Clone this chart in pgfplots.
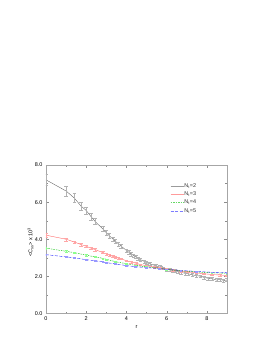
\documentclass[border=0pt]{standalone}
\usepackage{fontspec}
\setmainfont{Liberation Sans}
\usepackage{pgfplots}
\pgfplotsset{compat=1.18}
\begin{document}
\begin{tikzpicture}
\useasboundingbox (0,0) rectangle (274bp,354bp);
\begin{axis}[
  at={(46bp,40.5bp)}, anchor=south west,
  scale only axis, width=181bp, height=148.5bp,
  xmin=0, xmax=9, ymin=0, ymax=8,
  xtick={0,2,4,6,8}, ytick={0,2,4,6,8},
  minor x tick num=1, minor y tick num=1,
  font=\fontsize{5.5}{6}\selectfont,
  /pgf/number format/assume math mode=true,
  yticklabel style={/pgf/number format/fixed, /pgf/number format/precision=1, /pgf/number format/fixed zerofill},
  axis line style={black!35, line width=0.4pt},
  every tick/.style={black!45, line width=0.3pt},
  major tick length=2.5bp, minor tick length=1.5bp,
  xlabel={r}, ylabel={<C\textsubscript{ss}> x 10\textsuperscript{3}},
  xlabel style={at={(axis description cs:0.5,-0.094)}, anchor=center},
  ylabel style={at={(axis description cs:-0.085,0.48)}, anchor=center},
  legend cell align=left,
  legend style={draw=none, fill=none, at={(axis description cs:0.67,0.895)}, anchor=north west,
    nodes={inner sep=0.6pt, text height=4bp, text depth=1bp, text=black!80}, row sep=2.1bp,
    font=\fontsize{5.5}{6}\selectfont},
  legend image code/.code={\draw[#1, opacity=0.6] (0bp,0bp) -- (13bp,0bp);},
]
\addplot[black!65, line width=0.35pt, error bars/.cd, y dir=both, y explicit,
  error bar style={black!30, line width=0.25pt}, error mark options={rotate=90, mark size=1.8bp, black!30}]
  table[x=r, y=y, y error=e] {
r y e
0 7.20 0.30
1 6.60 0.27
1.41 6.22 0.25
1.73 5.80 0.22
2 5.55 0.20
2.24 5.22 0.18
2.45 4.95 0.16
2.83 4.55 0.14
3 4.35 0.12
3.16 4.18 0.12
3.32 4.02 0.11
3.46 3.88 0.10
3.61 3.75 0.10
3.74 3.62 0.10
4 3.40 0.09
4.12 3.30 0.09
4.24 3.20 0.09
4.36 3.12 0.08
4.47 3.05 0.08
4.58 2.97 0.08
4.69 2.90 0.08
4.90 2.80 0.08
5 2.74 0.08
5.10 2.70 0.08
5.20 2.66 0.08
5.39 2.60 0.08
5.48 2.56 0.08
5.66 2.50 0.08
5.74 2.47 0.08
5.83 2.44 0.08
6 2.38 0.08
6.16 2.34 0.08
6.32 2.32 0.08
6.40 2.30 0.08
6.56 2.26 0.08
6.71 2.22 0.08
6.93 2.16 0.08
7.07 2.14 0.08
7.28 2.08 0.08
7.48 2.04 0.08
7.68 2.01 0.08
7.87 1.94 0.08
8.06 1.90 0.08
8.25 1.88 0.08
8.49 1.80 0.08
8.66 1.84 0.08
8.83 1.78 0.08
9.0 1.80 0.08
};
\addlegendentry{\textcolor{black!80}{N\textsubscript{t}=2}}
\addplot[red!65, line width=0.35pt, error bars/.cd, y dir=both, y explicit,
  error bar style={red!35, line width=0.25pt}, error mark options={rotate=90, mark size=1.8bp, red!35}]
  table[x=r, y=y, y error=e] {
r y e
0 4.22 0.12
1 4.00 0.08
1.41 3.85 0.07
1.73 3.72 0.07
2 3.62 0.06
2.24 3.52 0.06
2.45 3.44 0.06
2.83 3.28 0.05
3 3.21 0.05
3.16 3.15 0.05
3.32 3.08 0.05
3.46 3.03 0.05
3.61 2.98 0.04
3.74 2.94 0.04
4 2.84 0.04
4.24 2.77 0.04
4.47 2.71 0.04
4.69 2.64 0.04
5 2.57 0.04
5.39 2.50 0.04
5.66 2.45 0.04
6 2.39 0.04
6.32 2.34 0.04
6.71 2.28 0.04
7.07 2.24 0.04
7.48 2.19 0.04
7.87 2.14 0.04
8.25 2.10 0.04
8.66 2.07 0.04
9 2.05 0.04
};
\addlegendentry{\textcolor{black!80}{N\textsubscript{t}=3}}
\addplot[green!75!black, line width=0.4pt, dash pattern=on 1.5bp off 1bp, error bars/.cd, y dir=both, y explicit,
  error bar style={green!45, line width=0.25pt, solid}, error mark options={rotate=90, mark size=1.4bp, green!45, solid}]
  table[x=r, y=y, y error=e] {
r y e
0 3.52 0.05
1 3.35 0.04
1.41 3.28 0.04
2 3.14 0.04
2.45 3.05 0.03
2.83 2.97 0.03
3 2.92 0.03
3.46 2.79 0.03
4 2.68 0.03
4.47 2.59 0.03
5 2.51 0.03
5.66 2.43 0.03
6 2.38 0.03
6.71 2.30 0.03
7.48 2.24 0.03
8.25 2.19 0.03
9 2.17 0.03
};
\addlegendentry{\textcolor{black!80}{N\textsubscript{t}=4}}
\addplot[blue!85, line width=0.4pt, dash pattern=on 3bp off 1.5bp, error bars/.cd, y dir=both, y explicit,
  error bar style={blue!40, line width=0.25pt, solid}, error mark options={rotate=90, mark size=1.4bp, blue!40, solid}]
  table[x=r, y=y, y error=e] {
r y e
0 3.17 0.04
1 3.05 0.03
1.41 3.00 0.03
2 2.90 0.03
2.45 2.84 0.03
2.83 2.78 0.03
3 2.74 0.03
3.46 2.67 0.03
4 2.58 0.02
4.47 2.52 0.02
5 2.47 0.02
5.66 2.42 0.02
6 2.38 0.02
6.71 2.32 0.02
7.48 2.27 0.02
8.25 2.22 0.02
9 2.20 0.02
};
\addlegendentry{\textcolor{black!80}{N\textsubscript{t}=5}}
\end{axis}
\end{tikzpicture}
\end{document}
